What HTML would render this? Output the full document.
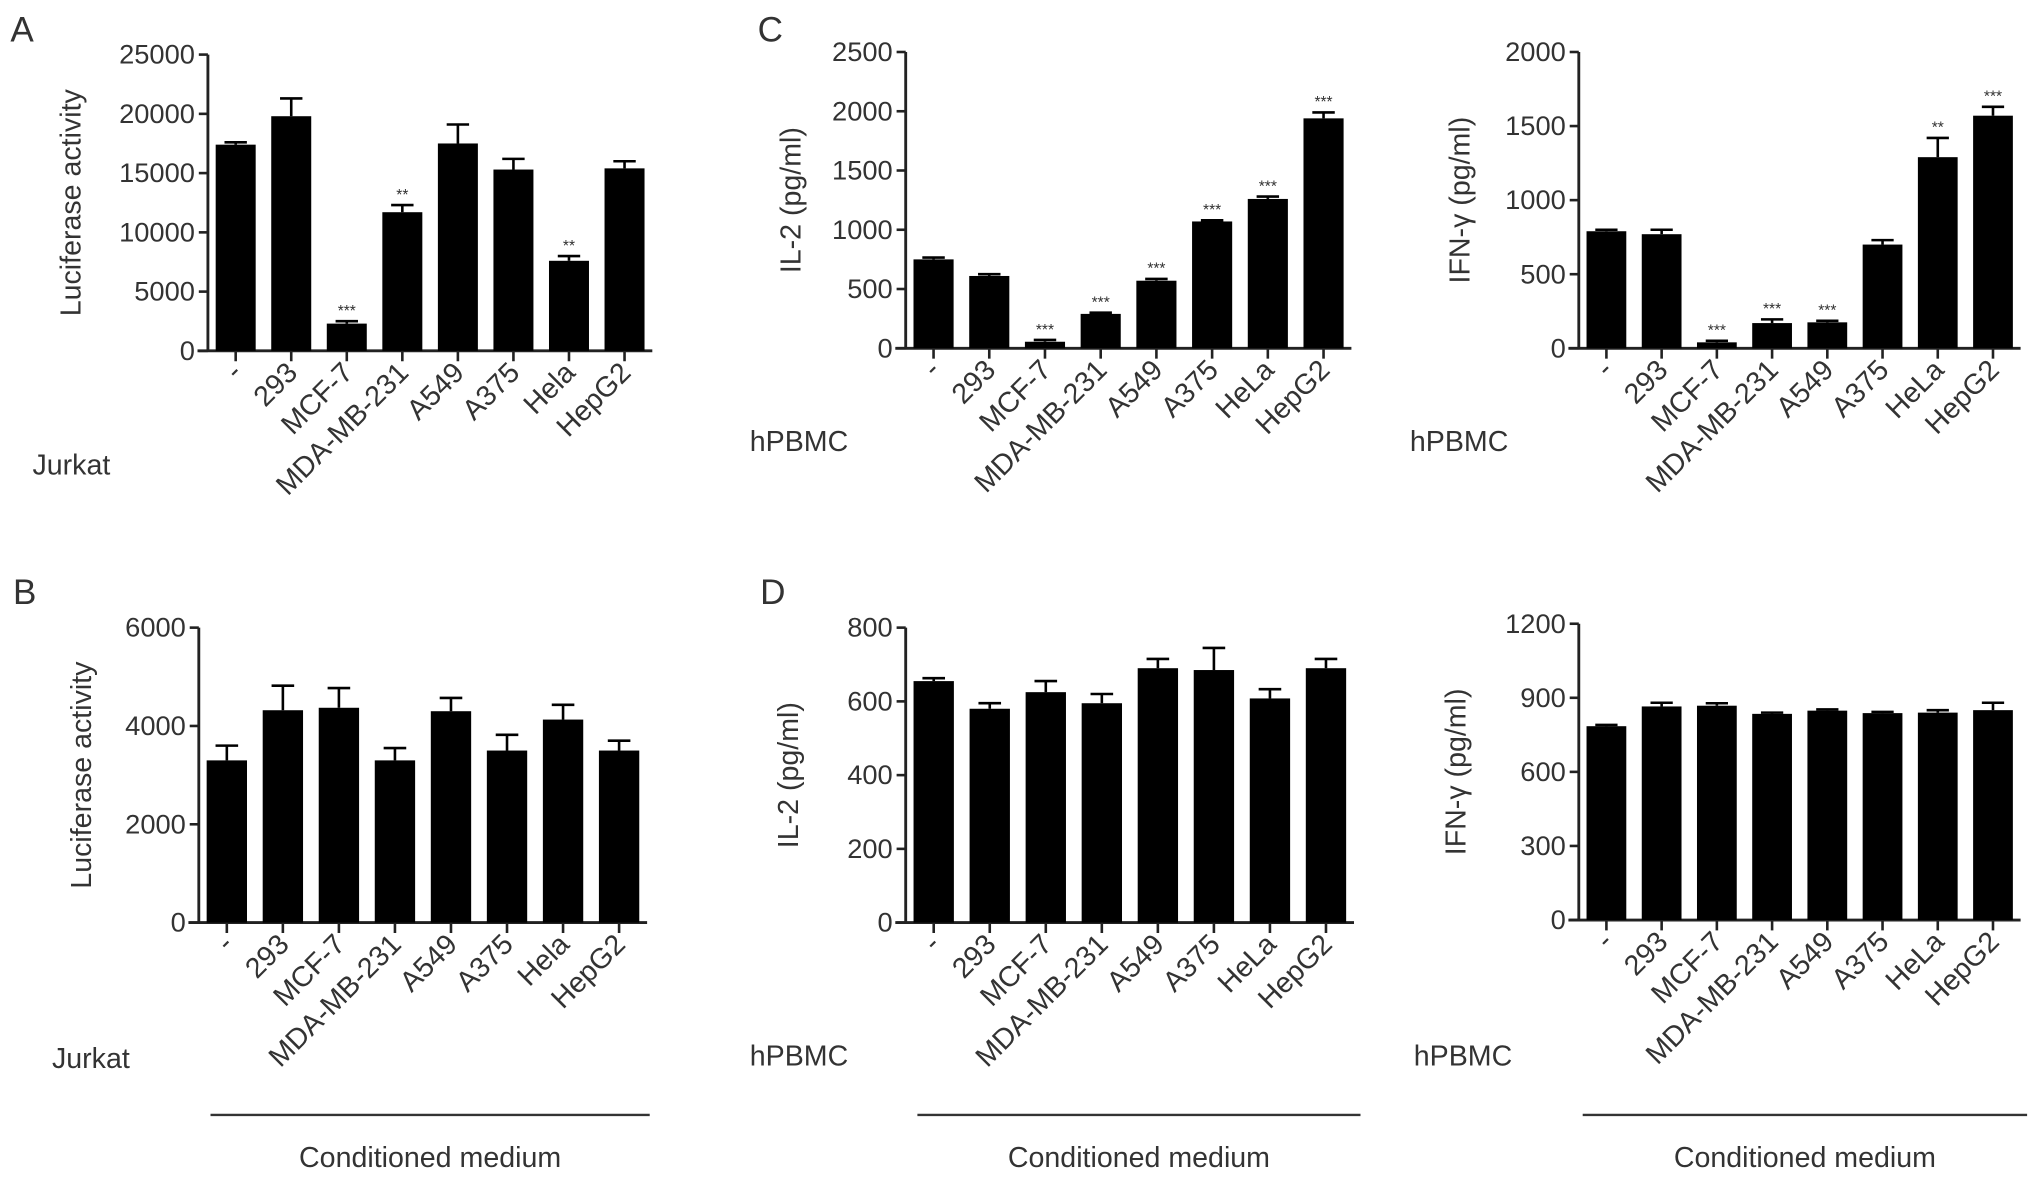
<!DOCTYPE html>
<html><head><meta charset="utf-8"><style>
html,body{margin:0;padding:0;background:#fff}
svg{display:block}
text{font-family:"Liberation Sans",Arial,sans-serif;fill:#333}
</style></head><body>
<svg id="fig" width="2031" height="1179" viewBox="0 0 1563 907.3" xmlns="http://www.w3.org/2000/svg"></svg>
<script>
const catsA = ["-","293","MCF-7","MDA-MB-231","A549","A375","Hela","HepG2"];
const catsC = ["-","293","MCF-7","MDA-MB-231","A549","A375","HeLa","HepG2"];
const valsA = [17400,19800,2300,11700,17500,15300,7600,15400];
const errA  = [200,1500,200,600,1600,900,400,600];
const starsA = ["","","***","**","","","**",""];
const ticksA = [0,5000,10000,15000,20000,25000];
const valsB = [3300,4320,4370,3300,4300,3500,4130,3500];
const errB  = [300,500,400,250,270,320,300,200];
const ticksB = [0,2000,4000,6000];
const valsC1 = [750,610,55,290,570,1070,1260,1940];
const errC1  = [15,15,15,10,15,10,20,50];
const starsC1 = ["","","***","***","***","***","***","***"];
const ticksC1 = [0,500,1000,1500,2000,2500];
const valsC2 = [790,770,40,170,175,700,1290,1570];
const errC2  = [10,30,10,25,10,30,130,60];
const starsC2 = ["","","***","***","***","","**","***"];
const ticksC2 = [0,500,1000,1500,2000];
const valsD1 = [655,580,625,595,690,685,608,690];
const errD1  = [8,15,30,25,25,60,25,25];
const ticksD1 = [0,200,400,600,800];
const valsD2 = [785,865,868,835,848,838,840,850];
const errD2  = [5,15,10,5,5,5,10,30];
const ticksD2 = [0,300,600,900,1200];

const svg = document.getElementById('fig');
const NS = "http://www.w3.org/2000/svg";
function el(tag, attrs, parent, txt){
  const e = document.createElementNS(NS, tag);
  for (const k in attrs) e.setAttribute(k, attrs[k]);
  if (txt !== undefined) e.textContent = txt;
  (parent||svg).appendChild(e); return e;
}
function panel(o){
  const g = el('g', {});
  
  
  const max = o.ticks[o.ticks.length-1];
  const y = v => o.y0 - (v/max)*(o.y0 - o.yTop);
  const step = (o.xEnd - o.ax)/o.cats.length;
  const xc = i => o.ax + step*(i+0.5) + o.shift;
  const ya = el('line', {x1:o.ax,y1:o.yTop,x2:o.ax,y2:o.y0,stroke:'#222','stroke-width':2.2}, g);
   
  o.ticks.forEach(t=>{
    el('line',{x1:o.ax-7,y1:y(t),x2:o.ax,y2:y(t),stroke:'#222','stroke-width':2},g);
    const tl = el('text',{x:o.ax-10,y:y(t)+7,'text-anchor':'end','font-size':21},g,String(t));
     
  });
  const xa = el('line',{x1:o.ax-8,y1:o.y0,x2:o.xEnd,y2:o.y0,stroke:'#222','stroke-width':2.2},g);
   
  const bw = step*0.72;
  o.vals.forEach((v,i)=>{
    const cx = xc(i);
    const b = el('rect',{x:cx-bw/2,y:y(v),width:bw,height:o.y0-y(v),fill:'#000'},g);
    
    
    const top = y(v+o.err[i]);
    el('line',{x1:cx,y1:top,x2:cx,y2:y(v),stroke:'#000','stroke-width':2},g);
    el('line',{x1:cx-bw*0.28,y1:top,x2:cx+bw*0.28,y2:top,stroke:'#000','stroke-width':2},g);
    el('line',{x1:cx,y1:o.y0,x2:cx,y2:o.y0+8,stroke:'#222','stroke-width':2},g);
    if (o.stars && o.stars[i]) {
      const s = el('text',{x:cx,y:top-4,'text-anchor':'middle','font-size':12},g,o.stars[i]);
       
    }
    const lx = cx+6, ly = o.y0+18;
    const t = el('text',{x:lx,y:ly,'text-anchor':'end','font-size':22,transform:`rotate(-45 ${lx} ${ly})`},g,o.cats[i]);
     
  });
  const tx = o.titleX, ty = (o.yTop+o.y0)/2;
  const tt = el('text',{x:tx,y:ty,'text-anchor':'middle','font-size':22,transform:`rotate(-90 ${tx} ${ty})`},g,o.title);
   
  const cl = el('text',{x:o.cellX,y:o.cellY,'font-size':22},g,o.cell);
   
  if (o.medium){
    el('line',{x1:o.medium[0],y1:858,x2:o.medium[1],y2:858,stroke:'#333','stroke-width':1.8},g);
    const m = el('text',{x:(o.medium[0]+o.medium[1])/2,y:898,'text-anchor':'middle','font-size':22},g,'Conditioned medium');
     
  }
  if (o.letter){
    const L = el('text',{x:o.letter[0],y:o.letter[1],'font-size':27},g,o.letter[2]);
     
  }
}
panel({name:'panel-a',cats:catsA,vals:valsA,err:errA,stars:starsA,ticks:ticksA,ax:160,xEnd:502,yTop:42,y0:270,shift:0,title:'Luciferase activity',titleX:62,cell:'Jurkat',cellX:25,cellY:365,letter:[8,32,'A']});
panel({name:'panel-b',cats:catsA,vals:valsB,err:errB,ticks:ticksB,ax:153,xEnd:498,yTop:483,y0:710,shift:0,title:'Luciferase activity',titleX:70,cell:'Jurkat',cellX:40,cellY:822,medium:[162,500],letter:[10,465,'B']});
panel({name:'panel-c-il2',cats:catsC,vals:valsC1,err:errC1,stars:starsC1,ticks:ticksC1,ax:697,xEnd:1040,yTop:40,y0:268,shift:0,title:'IL-2 (pg/ml)',titleX:616,cell:'hPBMC',cellX:577,cellY:347,letter:[583,32,'C']});
panel({name:'panel-c-ifng',cats:catsC,vals:valsC2,err:errC2,stars:starsC2,ticks:ticksC2,ax:1215,xEnd:1555,yTop:40,y0:268,shift:0,title:'IFN-γ (pg/ml)',titleX:1131,cell:'hPBMC',cellX:1085,cellY:347});
panel({name:'panel-d-il2',cats:catsC,vals:valsD1,err:errD1,ticks:ticksD1,ax:697,xEnd:1042,yTop:483,y0:710,shift:0,title:'IL-2 (pg/ml)',titleX:614,cell:'hPBMC',cellX:577,cellY:820,medium:[706,1047],letter:[585,465,'D']});
panel({name:'panel-d-ifng',cats:catsC,vals:valsD2,err:errD2,ticks:ticksD2,ax:1215,xEnd:1555,yTop:480,y0:708,shift:0,title:'IFN-γ (pg/ml)',titleX:1128,cell:'hPBMC',cellX:1088,cellY:820,medium:[1218,1560]});
</script>
</body></html>
